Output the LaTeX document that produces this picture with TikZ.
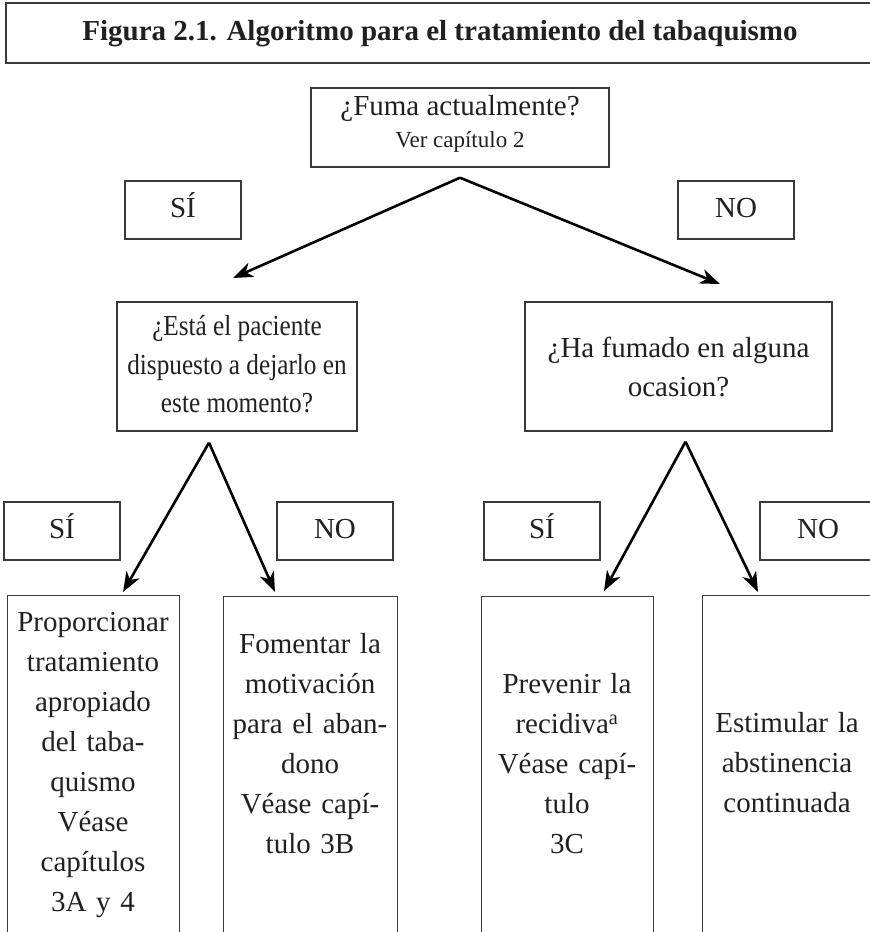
\documentclass[tikz,border=0pt]{standalone}
\usepackage{fontspec}
\usepackage{graphicx}
\setmainfont{Liberation Serif}
\usetikzlibrary{arrows.meta}
\definecolor{ink}{HTML}{231F20}
\definecolor{frame}{HTML}{3A3A3A}
\begin{document}
\begin{tikzpicture}[x=1pt,y=-1pt,
  box/.style={draw=frame, line width=1.4pt, inner sep=0pt, text=ink},
  lbl/.style={box, minimum width=116pt, minimum height=58pt, font=\fontsize{29}{34}\selectfont, text height=20pt, text depth=6pt},
  tall/.style={box, minimum width=172pt, minimum height=360pt, anchor=north west},
  txt/.style={inner sep=0pt, text=ink, text width=200pt, align=center, font=\fontsize{29}{40}\selectfont, anchor=north},
  arr/.style={draw=black, line width=2.6pt, -{Stealth[length=20pt,width=15pt,inset=6pt]}}]
\useasboundingbox (0,0) rectangle (870,932);
\clip (0,0) rectangle (870,932);
\fill[white] (0,0) rectangle (870,932);

% title
\node[box, minimum width=868pt, minimum height=60pt, font=\bfseries\fontsize{29}{34}\selectfont, text height=20pt, text depth=6pt] (title) at (440,33) {Figura 2.1. Algoritmo para el tratamiento del tabaquismo};

% questions
\node[box, minimum width=298pt, minimum height=79pt, align=center, font=\fontsize{29}{32}\selectfont] (q1) at (460,127.5) {¿Fuma actualmente?\\{\fontsize{23}{28}\selectfont Ver capítulo 2\rule[-13pt]{0pt}{1pt}}};
\node[box, minimum width=240pt, minimum height=129pt, font=\fontsize{29}{38.5}\selectfont] (q2) at (237,366.5) {\scalebox{0.87}[1]{\begin{tabular}{@{}c@{}}¿Está el paciente\\ dispuesto a dejarlo en\\ este momento?\end{tabular}}};
\node[box, minimum width=307pt, minimum height=129pt, align=center, font=\fontsize{29}{39}\selectfont] (q3) at (678.5,366.5) {¿Ha fumado en alguna\\ ocasion?};

% labels
\node[lbl] (s1) at (183,210) {SÍ};
\node[lbl] (n1) at (736,210) {NO};
\node[lbl] (s2) at (62,531) {SÍ};
\node[lbl] (n2) at (335,531) {NO};
\node[lbl] (s3) at (542,531) {SÍ};
\node[lbl] (n3) at (818,531) {NO};

% bottom boxes
\node[tall] (b1) at (7,595) {};
\node[tall, minimum width=174pt] (b2) at (223,596) {};
\node[tall] (b3) at (481,596) {};
\node[tall] (b4) at (702,595) {};

\node[txt] (t1) at (93,612) {Proporcionar\\ tratamiento\\ apropiado\\ del taba-\\ quismo\\ Véase\\ capítulos\\ 3A y 4};
\node[txt] (t2) at (310,633) {Fomentar la\\ motivación\\ para el aban-\\ dono\\ Véase capí-\\ tulo 3B};
\node[txt] (t3) at (567,673) {Prevenir la\\ recidiva\textsuperscript{a}\\ Véase capí-\\ tulo\\ 3C};
\node[txt] (t4) at (787,712) {Estimular la\\ abstinencia\\ continuada};

% arrow ends
\coordinate (e1) at (233,278);
\coordinate (e2) at (720,284);
\coordinate (e3) at (123,592);
\coordinate (e4) at (275,592);
\coordinate (e5) at (604,591);
\coordinate (e6) at (758,592);

\draw[arr] ([yshift=-10pt]q1.south) -- (e1);
\draw[arr] ([yshift=-10pt]q1.south) -- (e2);
\draw[arr] ([xshift=-28pt,yshift=-11pt]q2.south) -- (e3);
\draw[arr] ([xshift=-28pt,yshift=-11pt]q2.south) -- (e4);
\draw[arr] ([xshift=7pt,yshift=-10pt]q3.south) -- (e5);
\draw[arr] ([xshift=7pt,yshift=-10pt]q3.south) -- (e6);
\end{tikzpicture}
\end{document}
